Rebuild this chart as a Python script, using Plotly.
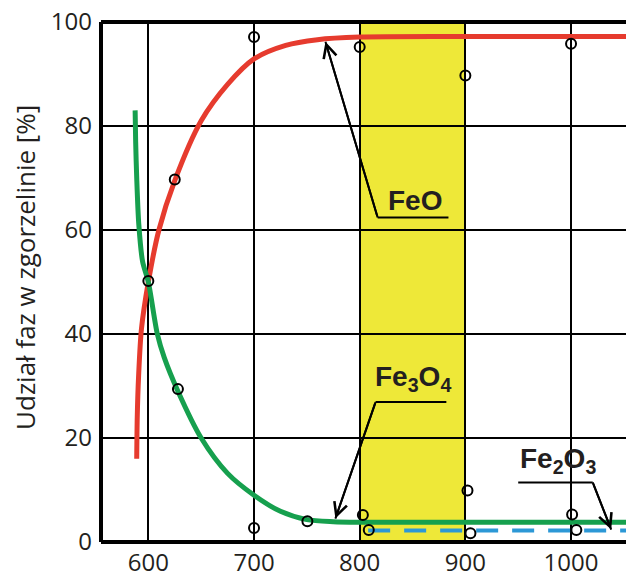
import plotly.graph_objects as go

# ---- data ----
x_ticks = [600, 700, 800, 900, 1000]
y_ticks = [0, 20, 40, 60, 80, 100]
band = [800, 900]

feo_curve_x = [589, 589.5, 590.8, 593.5, 600, 610, 625, 650, 675, 700, 730, 760, 800, 900, 1052]
feo_curve_y = [16, 24, 32, 41, 50, 60, 69.5, 81, 88, 92.9, 95.5, 96.6, 97.1, 97.2, 97.2]

fe3o4_curve_x = [587.5, 588, 589, 591, 594.5, 600, 608.5, 615, 628, 650, 675, 700, 725, 750, 775, 800, 900, 1052]
fe3o4_curve_y = [83, 77, 70, 61, 54, 50, 40, 35.5, 29, 20, 13.2, 9, 5.9, 4.3, 3.9, 3.8, 3.8, 3.8]

fe2o3_curve_x = [808, 1052]
fe2o3_curve_y = [2.2, 2.2]

feo_pts_x = [600, 625, 700, 800, 900, 1000]
feo_pts_y = [50.2, 69.7, 97.1, 95.2, 89.7, 95.8]

fe3o4_pts_x = [628, 700, 750.5, 803, 902, 1001]
fe3o4_pts_y = [29.4, 2.7, 4.0, 5.2, 9.9, 5.3]

fe2o3_pts_x = [808.6, 904.8, 1005]
fe2o3_pts_y = [2.3, 1.7, 2.3]

y_title = "Udział faz w zgorzelinie [%]"

RED = "#E63B2E"
GREEN = "#16A04E"
BLUE = "#2C98D6"
YELLOW = "#EEE838"
INK = "#231F20"

fig = go.Figure()

fig.add_trace(go.Scatter(x=feo_curve_x, y=feo_curve_y, mode="lines",
                         line=dict(color=RED, width=5, shape="spline", smoothing=0.8),
                         hoverinfo="skip"))
fig.add_trace(go.Scatter(x=fe3o4_curve_x, y=fe3o4_curve_y, mode="lines",
                         line=dict(color=GREEN, width=5, shape="spline", smoothing=0.8),
                         hoverinfo="skip"))
fig.add_trace(go.Scatter(x=fe2o3_curve_x, y=fe2o3_curve_y, mode="lines",
                         line=dict(color=BLUE, width=4, dash="22px,14px"),
                         hoverinfo="skip"))

marker = dict(symbol="circle", size=10, color="rgba(0,0,0,0)",
              line=dict(color="black", width=2))
for px, py in [(feo_pts_x, feo_pts_y), (fe3o4_pts_x, fe3o4_pts_y), (fe2o3_pts_x, fe2o3_pts_y)]:
    fig.add_trace(go.Scatter(x=px, y=py, mode="markers", marker=marker, cliponaxis=False))

shapes = [
    dict(type="rect", xref="x", yref="paper", x0=band[0], x1=band[1], y0=0, y1=1,
         fillcolor=YELLOW, line=dict(width=0), layer="below"),
    # frame
    dict(type="line", xref="paper", yref="paper", x0=0, x1=0, y0=0, y1=1,
         line=dict(color="black", width=4)),
    dict(type="line", xref="paper", yref="paper", x0=0, x1=1, y0=0, y1=0,
         line=dict(color="black", width=4)),
    dict(type="line", xref="paper", yref="paper", x0=0, x1=1, y0=1, y1=1,
         line=dict(color="black", width=4)),
    # label underlines
    dict(type="line", xref="x", yref="y", x0=817, x1=884, y0=62.4, y1=62.4,
         line=dict(color="black", width=2)),
    dict(type="line", xref="x", yref="y", x0=815, x1=882, y0=26.9, y1=26.9,
         line=dict(color="black", width=2)),
    dict(type="line", xref="x", yref="y", x0=950, x1=1020.5, y0=11.45, y1=11.45,
         line=dict(color="black", width=2)),
    # leader lines
    dict(type="line", xref="x", yref="y", x0=817, x1=767.6, y0=62.4, y1=96.2,
         line=dict(color="black", width=2)),
    dict(type="line", xref="x", yref="y", x0=815, x1=777, y0=26.9, y1=4.5,
         line=dict(color="black", width=2)),
    dict(type="line", xref="x", yref="y", x0=1020.5, x1=1038, y0=11.45, y1=2.4,
         line=dict(color="black", width=2)),
]

label_font = dict(family="Liberation Sans, Arial, sans-serif", size=28, color=INK)
annotations = [
    dict(x=852.4, y=65.6, xref="x", yref="y", text="<b>FeO</b>", showarrow=False,
         font=label_font, xanchor="center", yanchor="middle"),
    dict(x=850, y=31.5, xref="x", yref="y", text="<b>Fe<sub>3</sub>O<sub>4</sub></b>",
         showarrow=False, font=label_font, xanchor="center", yanchor="middle"),
    dict(x=987.8, y=15.6, xref="x", yref="y", text="<b>Fe<sub>2</sub>O<sub>3</sub></b>",
         showarrow=False, font=label_font, xanchor="center", yanchor="middle"),
    # arrowheads
    dict(x=767.6, y=96.2, ax=817, ay=62.4, xref="x", yref="y", axref="x", ayref="y",
         text="", showarrow=True, arrowhead=5, arrowsize=1.3, arrowwidth=2,
         arrowcolor="black", standoff=0, startstandoff=0),
    dict(x=777, y=4.5, ax=815, ay=26.9, xref="x", yref="y", axref="x", ayref="y",
         text="", showarrow=True, arrowhead=5, arrowsize=1.3, arrowwidth=2,
         arrowcolor="black", standoff=0, startstandoff=0),
    dict(x=1038, y=2.4, ax=1020.5, ay=11.45, xref="x", yref="y", axref="x", ayref="y",
         text="", showarrow=True, arrowhead=5, arrowsize=1.3, arrowwidth=2,
         arrowcolor="black", standoff=0, startstandoff=0),
    # y-axis title
    dict(x=0, y=0.527, xref="paper", yref="paper", text=y_title, showarrow=False,
         textangle=-90, xanchor="center", yanchor="middle", xshift=-76,
         font=dict(family="Open Sans, sans-serif", size=26, color=INK)),
]

tick_font = dict(family="Open Sans, sans-serif", size=24, color=INK)
fig.update_layout(
    width=626, height=578,
    margin=dict(l=101, r=0, t=22, b=32),
    paper_bgcolor="white", plot_bgcolor="white",
    showlegend=False,
    shapes=shapes, annotations=annotations,
    xaxis=dict(range=[555.2, 1052], tickvals=x_ticks, ticktext=[str(v) for v in x_ticks],
               showgrid=True, gridcolor="black", gridwidth=2, zeroline=False,
               showline=False, ticks="", tickfont=tick_font, ticklabelstandoff=4),
    yaxis=dict(range=[0, 100], tickvals=y_ticks, ticktext=[str(v) for v in y_ticks],
               showgrid=True, gridcolor="black", gridwidth=2, zeroline=False,
               showline=False, ticks="", tickfont=tick_font, ticklabelstandoff=8),
)

fig.write_html("out.html", post_script="document.body.style.margin='0';",
               config={"displayModeBar": False})
